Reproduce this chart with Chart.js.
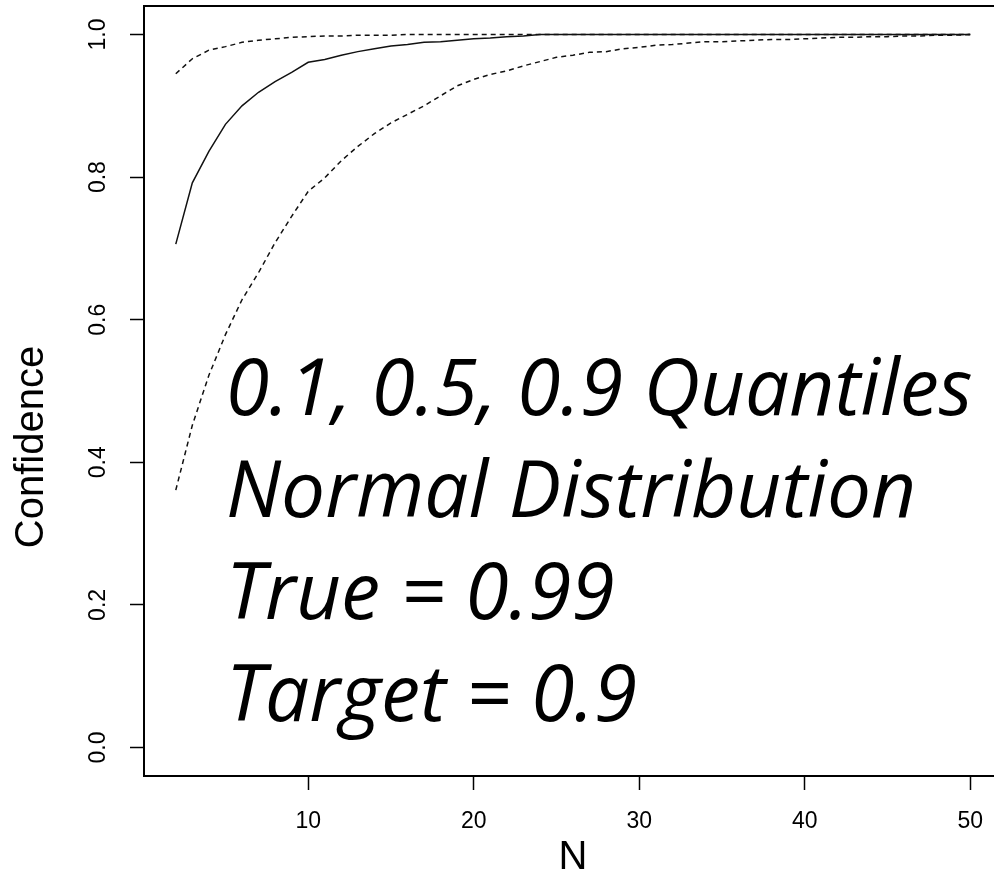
<!DOCTYPE html>
<html>
<head>
<meta charset="utf-8">
<script src="https://cdn.jsdelivr.net/npm/chart.js@4.4.1/dist/chart.umd.min.js"></script>
<style>
  html, body { margin: 0; padding: 0; background: #fff; }
  #wrap { width: 994px; height: 878px; overflow: hidden; position: relative; }
  canvas { display: block; }
</style>
</head>
<body>
<div id="wrap"><canvas id="myChart" width="1010" height="878"></canvas></div>
<script>
// sample sizes
var nValues = [2, 3, 4, 5, 6, 7, 8, 9, 10, 11, 12, 13, 14, 15, 16, 17, 18, 19, 20, 21, 22, 23, 24, 25, 26,
  27, 28, 29, 30, 31, 32, 33, 34, 35, 36, 37, 38, 39, 40, 41, 42, 43, 44, 45, 46, 47, 48, 49, 50];

// 0.1 quantile of the confidence
var q10 = [0.361, 0.452, 0.522, 0.579, 0.628, 0.666, 0.708, 0.745, 0.780, 0.799, 0.823, 0.843, 0.861, 0.876,
  0.888, 0.900, 0.914, 0.928, 0.937, 0.944, 0.949, 0.956, 0.962, 0.968, 0.971, 0.975, 0.976, 0.980, 0.982,
  0.985, 0.986, 0.988, 0.990, 0.990, 0.991, 0.992, 0.993, 0.993, 0.994, 0.995, 0.996, 0.996, 0.997, 0.997,
  0.998, 0.998, 0.999, 0.999, 1.000];

// median
var q50 = [0.706, 0.792, 0.836, 0.874, 0.900, 0.919, 0.934, 0.947, 0.961, 0.965, 0.971, 0.976, 0.980, 0.984,
  0.986, 0.989, 0.990, 0.992, 0.994, 0.995, 0.997, 0.998, 1.000, 1.000, 1.000, 1.000, 1.000, 1.000, 1.000,
  1.000, 1.000, 1.000, 1.000, 1.000, 1.000, 1.000, 1.000, 1.000, 1.000, 1.000, 1.000, 1.000, 1.000, 1.000,
  1.000, 1.000, 1.000, 1.000, 1.000];

// 0.9 quantile
var q90 = [0.945, 0.966, 0.978, 0.983, 0.989, 0.992, 0.994, 0.996, 0.997, 0.998, 0.998, 0.999, 0.999, 0.999,
  1.000, 1.000, 1.000, 1.000, 1.000, 1.000, 1.000, 1.000, 1.000, 1.000, 1.000, 1.000, 1.000, 1.000, 1.000,
  1.000, 1.000, 1.000, 1.000, 1.000, 1.000, 1.000, 1.000, 1.000, 1.000, 1.000, 1.000, 1.000, 1.000, 1.000,
  1.000, 1.000, 1.000, 1.000, 1.000];

var xTicks = [10, 20, 30, 40, 50];
var yTicks = [0, 0.2, 0.4, 0.6, 0.8, 1.0];
var noteLines = ["0.1, 0.5, 0.9 Quantiles", "Normal Distribution", "True = 0.99", "Target = 0.9"];

function toPoints(ys) {
  return nValues.map(function (n, i) { return { x: n, y: ys[i] }; });
}

var axisFont = { family: "'Liberation Sans', Arial, sans-serif", size: 23 };

// box around the plot, y label and the note text
var decor = {
  id: "decor",
  afterDraw: function (chart) {
    var ctx = chart.ctx;
    var a = chart.chartArea;
    ctx.save();
    ctx.strokeStyle = "#000";
    ctx.lineWidth = 2;
    ctx.strokeRect(a.left, a.top, a.right - a.left, a.bottom - a.top);

    ctx.fillStyle = "#000";
    ctx.font = "40px 'Liberation Sans', Arial, sans-serif";
    ctx.textAlign = "center";
    ctx.textBaseline = "middle";
    ctx.translate(32, 447);
    ctx.rotate(-Math.PI / 2);
    ctx.fillText("Confidence", 0, 0);
    ctx.restore();

    ctx.save();
    var size = 100;
    ctx.font = "italic " + size + "px 'Open Sans'";
    size = size * 747 / ctx.measureText(noteLines[0]).width;
    ctx.font = "italic " + size.toFixed(1) + "px 'Open Sans'";
    ctx.fillStyle = "#000";
    ctx.textAlign = "left";
    ctx.textBaseline = "alphabetic";
    var base = [415, 517, 619, 721];
    noteLines.forEach(function (t, i) { ctx.fillText(t, 226, base[i]); });
    ctx.restore();
  }
};

new Chart("myChart", {
  type: "line",
  data: {
    datasets: [{
      data: toPoints(q10),
      borderColor: "#111",
      borderWidth: 1.5,
      borderDash: [5, 4],
      pointRadius: 0,
      tension: 0
    }, {
      data: toPoints(q50),
      borderColor: "#111",
      borderWidth: 1.5,
      pointRadius: 0,
      tension: 0
    }, {
      data: toPoints(q90),
      borderColor: "#111",
      borderWidth: 1.5,
      borderDash: [5, 4],
      pointRadius: 0,
      tension: 0
    }]
  },
  options: {
    responsive: false,
    animation: false,
    events: [],
    layout: { padding: { top: 6, right: 8, left: 0, bottom: 0 } },
    plugins: { legend: { display: false }, tooltip: { enabled: false } },
    scales: {
      x: {
        type: "linear",
        min: 0.08,
        max: 51.92,
        afterBuildTicks: function (s) { s.ticks = xTicks.map(function (v) { return { value: v }; }); },
        afterFit: function (s) { s.height = 102; s.paddingLeft = 0; s.paddingRight = 0; },
        grid: { drawOnChartArea: false, drawTicks: true, tickLength: 14, tickWidth: 1.5, tickColor: "#000" },
        border: { display: false },
        ticks: { font: axisFont, color: "#000", padding: 18, maxRotation: 0, autoSkip: false },
        title: {
          display: true, text: "N", color: "#000",
          font: { family: "'Liberation Sans', Arial, sans-serif", size: 40, lineHeight: 1 },
          padding: { top: 0, bottom: 0 }
        }
      },
      y: {
        type: "linear",
        min: -0.04,
        max: 1.04,
        afterBuildTicks: function (s) { s.ticks = yTicks.map(function (v) { return { value: v }; }); },
        afterFit: function (s) { s.width = 144; s.paddingTop = 0; s.paddingBottom = 0; },
        grid: { drawOnChartArea: false, drawTicks: true, tickLength: 14, tickWidth: 1.5, tickColor: "#000" },
        border: { display: false },
        ticks: {
          font: axisFont, color: "#000", padding: 15, minRotation: 90, maxRotation: 90,
          crossAlign: "center", autoSkip: false,
          callback: function (v) { return v.toFixed(1); }
        }
      }
    }
  },
  plugins: [decor]
});
</script>
</body>
</html>
